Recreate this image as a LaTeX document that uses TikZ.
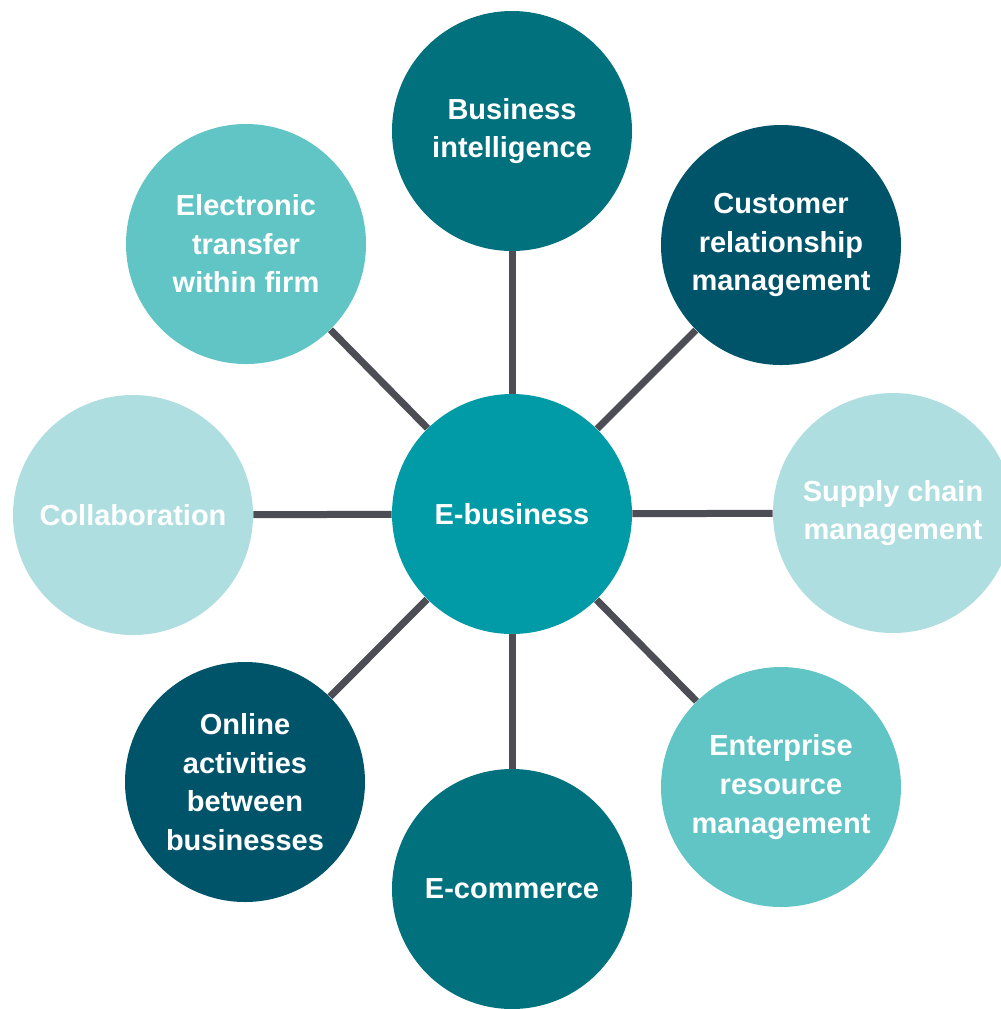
\documentclass[tikz,border=0pt]{standalone}
\usepackage{fontspec}
\setmainfont{Liberation Sans}
\usetikzlibrary{positioning}

\definecolor{tealhub}{HTML}{009BA6}
\definecolor{tealmid}{HTML}{00717D}
\definecolor{tealdark}{HTML}{00546A}
\definecolor{teallight}{HTML}{62C5C5}
\definecolor{tealpale}{HTML}{AEDEE0}
\definecolor{spokegray}{HTML}{4D4D55}

\begin{document}
\begin{tikzpicture}[
  ebdisc/.style  = {circle, minimum size=120pt, inner sep=0pt, align=center, text=white,
                    font=\fontsize{14.5}{19.3}\selectfont\bfseries},
  ebhub/.style   = {ebdisc, fill=tealhub},
  ebmid/.style   = {ebdisc, fill=tealmid},
  ebdark/.style  = {ebdisc, fill=tealdark},
  eblight/.style = {ebdisc, fill=teallight},
  ebpale/.style  = {ebdisc, fill=tealpale},
  ebspoke/.style = {draw=spokegray, line width=3.5pt},
  x=0.5pt, y=-0.5pt,
]
  \useasboundingbox (0,0) rectangle (1001,1009);

  \node[ebhub]   (hub)  at (512,514) {E-business};
  \node[ebmid]   (bi)   at (512,131) {Business\\intelligence};
  \node[ebdark]  (crm)  at (781,245) {Customer\\relationship\\management};
  \node[ebpale]  (scm)  at (893,513) {Supply chain\\management};
  \node[eblight] (erm)  at (781,787) {Enterprise\\resource\\management};
  \node[ebmid]   (ecom) at (512,889) {E-commerce};
  \node[ebdark]  (oab)  at (245,782) {Online\\activities\\between\\businesses};
  \node[ebpale]  (coll) at (133,515) {Collaboration};
  \node[eblight] (etf)  at (246,244) {Electronic\\transfer\\within firm};

  \foreach \n in {bi,crm,scm,erm,ecom,oab,coll,etf}
    \draw[ebspoke] (hub) -- (\n);
\end{tikzpicture}
\end{document}
